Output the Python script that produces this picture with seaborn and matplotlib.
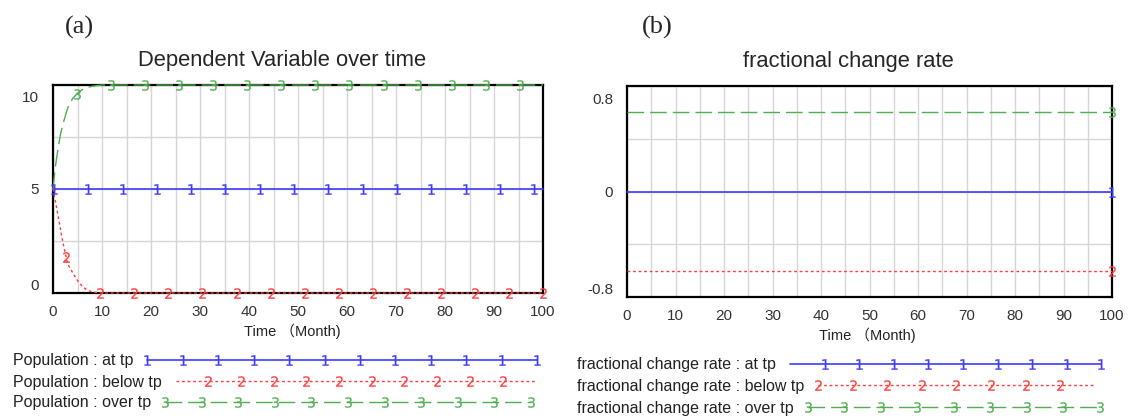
import numpy as np
import matplotlib
matplotlib.use("Agg")
import matplotlib.pyplot as plt
import matplotlib.transforms as mtransforms
from matplotlib.lines import Line2D
from matplotlib.legend_handler import HandlerLine2D
import seaborn as sns

# (a) population runs
time_a = [0, 0.5, 1, 1.5, 2, 3, 4, 5, 6, 7, 8, 9, 10, 100]
pop_at_tp = [5, 5, 5, 5, 5, 5, 5, 5, 5, 5, 5, 5, 5, 5]
pop_below_tp = [5, 4.4, 3.75, 3.1, 2.45, 1.4, 0.98, 0.6, 0.32, 0.13, 0.06, 0.02, 0, 0]
pop_over_tp = [5, 6.1, 6.9, 7.6, 8.1, 8.9, 9.35, 9.6, 9.78, 9.88, 9.94, 9.97, 10, 10]

# (b) fractional change rate, flat over the whole run
time_b = [0, 100]
rate_at_tp = [0, 0]
rate_below_tp = [-0.6, -0.6]
rate_over_tp = [0.6, 0.6]

series = ["at tp", "below tp", "over tp"]
digits = {"at tp": "1", "below tp": "2", "over tp": "3"}
x_ticks = list(range(0, 101, 10))
y_ticks_a = [0, 5, 10]
y_labels_a = ["0", "5", "10"]
y_ticks_b = [-0.8, 0, 0.8]
y_labels_b = ["-0.8", "0", "0.8"]

colors = {"at tp": "#3c3cff", "below tp": "#ff3c3c", "over tp": "#4fae4f"}
styles = {"at tp": "-", "below tp": (0, (2, 2)), "over tp": (0, (12, 4.3))}
widths = {"at tp": 1.2, "below tp": 1.0, "over tp": 1.0}

sns.set_style("white")
plt.rcParams["font.family"] = ["Liberation Sans", "Noto Sans CJK SC", "DejaVu Sans"]

fig = plt.figure(figsize=(11.32, 4.18), dpi=100)
ax_a = fig.add_axes([53 / 1132, 1 - 293 / 418, 490 / 1132, 208 / 418])
ax_b = fig.add_axes([627 / 1132, 1 - 297 / 418, 485 / 1132, 211 / 418])


class RowHandler(HandlerLine2D):
    # legend line with only some of the numbered markers shown
    def __init__(self, every=None, **kw):
        super().__init__(**kw)
        self.every = every

    def create_artists(self, *args, **kw):
        arts = super().create_artists(*args, **kw)
        arts[0].set_markevery(self.every)
        return arts


def draw_panel(ax, time, runs, ylim, yticks, ylabels, ygrid, marks, title, title_x, xlabel_x):
    for name, vals in zip(series, runs):
        sns.lineplot(x=time, y=vals, ax=ax, color=colors[name], linewidth=widths[name],
                     linestyle=styles[name], zorder=3, clip_on=False)
        start, step = marks[name]
        mt = np.arange(start, 100.01, step)
        ax.plot(mt, np.interp(mt, time, vals), linestyle="none", marker="$%s$" % digits[name],
                markersize=7.5, markeredgewidth=0.15, color=colors[name], zorder=4, clip_on=False)

    ax.set_xlim(0, 100)
    ax.set_ylim(*ylim)
    ax.set_xticks(x_ticks)
    ax.set_xticks(range(5, 100, 10), minor=True)
    ax.set_yticks(yticks)
    ax.set_yticklabels(ylabels)
    ax.set_yticks(ygrid, minor=True)
    ax.grid(which="both", color="#d6d6d6", linewidth=1.0)
    ax.tick_params(which="both", length=0)
    ax.tick_params(axis="y", pad=10, labelsize=11, labelcolor="#333333")
    ax.tick_params(axis="x", pad=9, labelsize=11, labelcolor="#333333")
    for sp in ax.spines.values():
        sp.set_color("black")
        sp.set_linewidth(1.6)
        sp.set_visible(True)
    ax.set_ylabel("")
    ax.set_xlabel("Time （Month)", fontsize=10.5, color="#222222", labelpad=3, x=xlabel_x)
    ax.set_title(title, fontsize=15.8, pad=14, x=title_x)

    # Vensim-style: end labels pulled inside the frame
    labs = ax.get_yticklabels()
    labs[-1].set_transform(labs[-1].get_transform()
                           + mtransforms.ScaledTranslation(0, -12 / 100, fig.dpi_scale_trans))
    labs[0].set_transform(labs[0].get_transform()
                          + mtransforms.ScaledTranslation(0, 9 / 100, fig.dpi_scale_trans))


draw_panel(ax_a, time_a, [pop_at_tp, pop_below_tp, pop_over_tp], (0, 10), y_ticks_a, y_labels_a,
           [2.5, 7.5], {"at tp": (0.2, 7.0), "below tp": (2.7, 6.95), "over tp": (4.9, 6.95)},
           "Dependent Variable over time", 0.467, 0.488)
draw_panel(ax_b, time_b, [rate_at_tp, rate_below_tp, rate_over_tp], (-0.8, 0.8), y_ticks_b, y_labels_b,
           [-0.4, 0.4], {"at tp": (100, 100), "below tp": (100, 100), "over tp": (100, 100)},
           "fractional change rate", 0.456, 0.495)

fig.text(65 / 1132, 1 - 27 / 418, "(a)", family="Liberation Serif", fontsize=19, va="center")
fig.text(642 / 1132, 1 - 27 / 418, "(b)", family="Liberation Serif", fontsize=19, va="center")

# legends below each panel: text first, then a numbered line sample
rows = [
    ("Population : at tp", "at tp", 13, 361, 12, None, 25.0),
    ("Population : below tp", "below tp", 13, 382, 12, slice(1, 11), 23.1),
    ("Population : over tp", "over tp", 13, 403, 11, None, 23.5),
    ("fractional change rate : at tp", "at tp", 577, 365, 10, slice(1, None), 20.1),
    ("fractional change rate : below tp", "below tp", 577, 386, 9, slice(0, 8), 17.9),
    ("fractional change rate : over tp", "over tp", 577, 408, 9, None, 18.9),
]
for label, name, px, py, npts, every, hlen in rows:
    h = Line2D([], [], color=colors[name], linestyle=styles[name], linewidth=widths[name],
               marker="$%s$" % digits[name], markersize=7.5, markeredgewidth=0.15)
    fig.legend([h], [label], loc="center left", bbox_to_anchor=(px / 1132, 1 - py / 418),
               frameon=False, markerfirst=False, numpoints=npts, handlelength=hlen,
               handletextpad=0.58, borderpad=0, borderaxespad=0, fontsize=11.5,
               labelcolor="#222222", handler_map={h: RowHandler(every)})

fig.savefig("out.png", dpi=100)
